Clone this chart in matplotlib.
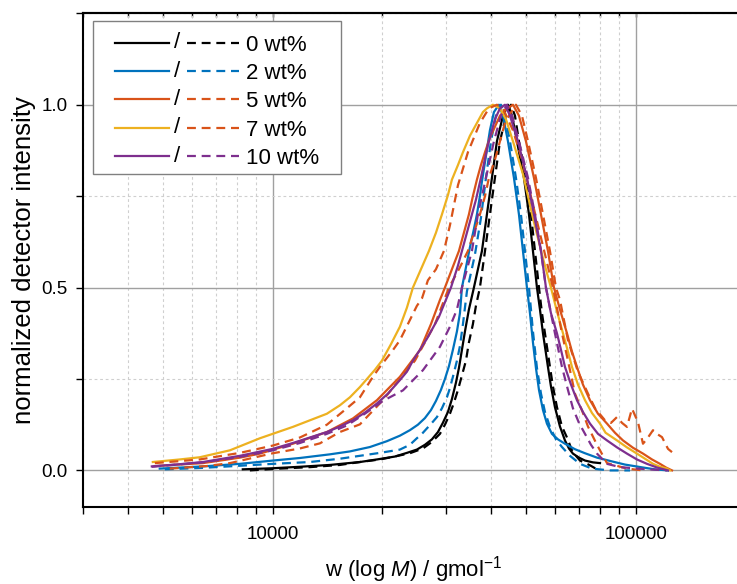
import matplotlib
matplotlib.use('Agg')
import matplotlib.pyplot as plt
from matplotlib.legend_handler import HandlerBase
from matplotlib.lines import Line2D
from matplotlib.text import Text
from matplotlib.ticker import MultipleLocator, FuncFormatter, NullFormatter

plt.rcParams['font.family'] = ['Liberation Sans', 'DejaVu Sans']
plt.rcParams['mathtext.fontset'] = 'custom'
plt.rcParams['mathtext.rm'] = 'Liberation Sans'
plt.rcParams['mathtext.it'] = 'Liberation Sans:italic'

labels = ['0 wt%', '2 wt%', '5 wt%', '7 wt%', '10 wt%']
solid_colors = ['#000000', '#0072BD', '#D95319', '#EDB120', '#7E2F8E']
dashed_colors = ['#000000', '#0072BD', '#D95319', '#D95319', '#7E2F8E']

# 0 wt%
m_0_solid = [8280, 10020, 11890, 14380, 17400, 19380, 21730, 23440, 24970, 26270, 27470, 28540,
             29440, 30410, 31180, 31990, 32600, 33230, 33870, 34730, 35850, 36770, 37720, 38930,
             40190, 41480, 43100, 44490, 45640, 47100, 49240, 50830, 52130, 53470, 54500, 55550,
             56610, 57330, 58430, 59930, 61870, 63860, 65500, 67170, 69790, 72510, 76290, 79750]
i_0_solid = [0.003, 0.006, 0.010, 0.015, 0.023, 0.030, 0.038, 0.048, 0.057, 0.070, 0.085, 0.105,
             0.13, 0.16, 0.195, 0.24, 0.28, 0.33, 0.38, 0.44, 0.50, 0.55, 0.60, 0.70,
             0.80, 0.90, 0.97, 1.0, 0.97, 0.90, 0.80, 0.70, 0.60, 0.50, 0.44, 0.375,
             0.32, 0.283, 0.23, 0.173, 0.12, 0.082, 0.06, 0.046, 0.035, 0.027, 0.022, 0.02]
m_0_dashed = [8660, 10470, 12670, 15320, 17400, 19750, 21450, 23880, 25940, 27470, 28900, 29830,
              30790, 31580, 32400, 33230, 34080, 34730, 35620, 36310, 37240, 38460, 39680, 40960,
              42290, 43930, 45350, 46510, 47700, 49870, 51470, 52800, 54160, 55200, 56250, 57330,
              58060, 59170, 60700, 62660, 64680, 66760, 68470, 70240, 74850, 78240]
i_0_dashed = [0.0, 0.005, 0.009, 0.015, 0.023, 0.030, 0.037, 0.047, 0.06, 0.078, 0.10, 0.125,
              0.155, 0.185, 0.22, 0.26, 0.30, 0.35, 0.40, 0.45, 0.50, 0.60, 0.70, 0.80,
              0.90, 0.97, 1.0, 0.97, 0.90, 0.80, 0.70, 0.60, 0.50, 0.43, 0.375, 0.32,
              0.283, 0.23, 0.173, 0.12, 0.09, 0.055, 0.04, 0.027, 0.014, 0.003]

# 2 wt%
m_2_solid = [4890, 6430, 8130, 10020, 11890, 14380, 16330, 18540, 20650, 22420, 23880, 25130,
             26270, 27300, 28180, 29080, 29830, 30600, 31380, 32190, 32810, 33230, 34080, 34950,
             35850, 36540, 37240, 37720, 38690, 39680, 40700, 42010, 43100, 44490, 46210, 47700,
             48930, 50180, 51150, 52130, 53130, 54160, 55550, 56960, 58800, 61080, 63860, 68040,
             72510, 78240, 84970, 93430, 104740, 113000, 122740]
i_2_solid = [0.005, 0.011, 0.018, 0.027, 0.034, 0.044, 0.052, 0.064, 0.08, 0.095, 0.11, 0.125,
             0.143, 0.165, 0.19, 0.22, 0.25, 0.285, 0.33, 0.38, 0.43, 0.50, 0.555, 0.61,
             0.66, 0.70, 0.75, 0.79, 0.86, 0.93, 0.98, 1.0, 0.97, 0.90, 0.80, 0.70,
             0.60, 0.50, 0.43, 0.35, 0.28, 0.22, 0.165, 0.128, 0.10, 0.085, 0.073, 0.058,
             0.047, 0.035, 0.026, 0.016, 0.008, 0.003, 0.0]
m_2_dashed = [5050, 6430, 10020, 12670, 15320, 17400, 19750, 22420, 23880, 24970, 25780, 26610,
              27470, 28360, 29270, 30210, 30790, 31380, 32190, 32810, 33440, 34300, 35180, 36080,
              37480, 38690, 39940, 41220, 42550, 43650, 45060, 46800, 48310, 49550, 50830, 52130,
              53470, 54850, 56250, 58060, 60310, 62660, 65920, 70240, 75800, 84970, 96450]
i_2_dashed = [0.003, 0.007, 0.018, 0.023, 0.032, 0.04, 0.048, 0.057, 0.07, 0.088, 0.10, 0.115,
              0.13, 0.146, 0.17, 0.20, 0.225, 0.256, 0.30, 0.34, 0.40, 0.49, 0.54, 0.59,
              0.69, 0.80, 0.90, 0.97, 1.0, 0.97, 0.90, 0.80, 0.70, 0.60, 0.50, 0.38,
              0.28, 0.21, 0.16, 0.119, 0.085, 0.064, 0.04, 0.018, 0.005, 0.0, 0.0]

# 5 wt%
m_5_solid = [4740, 6430, 8130, 9230, 11370, 14110, 16640, 19380, 22420, 25460, 27300, 28900,
             29830, 31180, 32600, 33650, 34730, 35620, 36540, 37480, 38460, 39680, 40960, 42290,
             43650, 45920, 47700, 49870, 52460, 54850, 57330, 59550, 61870, 64680, 66760, 68910,
             71560, 74850, 78740, 83370, 87700, 92260, 98310, 104740, 110900, 116660, 121190, 125890]
i_5_solid = [0.012, 0.02, 0.035, 0.046, 0.073, 0.105, 0.142, 0.192, 0.256, 0.329, 0.40, 0.466,
             0.50, 0.55, 0.60, 0.65, 0.70, 0.75, 0.795, 0.835, 0.87, 0.91, 0.94, 0.97,
             0.985, 1.0, 0.97, 0.90, 0.80, 0.70, 0.60, 0.50, 0.44, 0.375, 0.325, 0.283,
             0.235, 0.192, 0.155, 0.128, 0.103, 0.082, 0.062, 0.046, 0.03, 0.018, 0.008, 0.0]
m_5_dashed = [5210, 6590, 7630, 10020, 11890, 13500, 15320, 17400, 20130, 22860, 24660, 26270,
              28000, 29270, 30600, 32600, 34510, 35850, 37240, 38460, 39430, 40960, 42290, 43650,
              44770, 46800, 48620, 50510, 53130, 55550, 58060, 60310, 61870, 65090, 69340, 73900,
              77260, 82310, 85510, 88830, 91700, 94620, 97680, 101460, 104740, 108100, 111600,
              114450, 118160, 122740, 125890]
i_5_dashed = [0.005, 0.012, 0.02, 0.047, 0.06, 0.074, 0.105, 0.126, 0.192, 0.26, 0.30, 0.35,
              0.40, 0.45, 0.50, 0.55, 0.60, 0.65, 0.70, 0.75, 0.80, 0.85, 0.90, 0.95,
              0.97, 1.0, 0.97, 0.90, 0.80, 0.70, 0.60, 0.50, 0.466, 0.356, 0.27, 0.21,
              0.17, 0.137, 0.13, 0.146, 0.13, 0.119, 0.169, 0.132, 0.073, 0.09, 0.11,
              0.10, 0.091, 0.059, 0.05]

# 7 wt%
m_7_solid = [4680, 5550, 6300, 7630, 9230, 11370, 14110, 15320, 16330, 17400, 18190, 19130,
             20000, 21180, 22420, 23440, 24350, 25620, 26950, 28180, 29270, 30410, 31180, 32400,
             33440, 34950, 36540, 37960, 38930, 40440, 42290, 43930, 45920, 47410, 48930, 50510,
             52130, 53810, 55550, 56960, 58430, 60700, 63060, 65090, 66760, 69340, 72510, 75800,
             79750, 82620, 88830, 94620, 100800, 106080, 111600, 116660, 121960, 124300]
i_7_solid = [0.023, 0.03, 0.036, 0.055, 0.088, 0.119, 0.155, 0.178, 0.20, 0.228, 0.25, 0.275,
             0.30, 0.345, 0.393, 0.445, 0.50, 0.55, 0.60, 0.65, 0.70, 0.753, 0.795, 0.835,
             0.87, 0.915, 0.95, 0.98, 0.99, 1.0, 0.99, 0.96, 0.90, 0.855, 0.81, 0.75,
             0.69, 0.635, 0.58, 0.54, 0.50, 0.435, 0.375, 0.325, 0.283, 0.235, 0.192, 0.157,
             0.128, 0.103, 0.082, 0.063, 0.046, 0.032, 0.018, 0.01, 0.005, 0.0]
m_7_dashed = [4740, 6300, 8130, 10020, 11890, 14110, 16020, 17400, 18890, 19750, 21450, 22420,
              23880, 24970, 25780, 26780, 28180, 29640, 30790, 32400, 34510, 37240, 39430, 41480,
              43100, 45920, 48620, 51150, 53810, 56610, 59170, 62660, 65090, 68040, 71140, 73900,
              78240, 83370, 94620, 104740]
i_7_dashed = [0.02, 0.03, 0.048, 0.068, 0.09, 0.125, 0.17, 0.20, 0.256, 0.283, 0.329, 0.356,
              0.411, 0.45, 0.47, 0.52, 0.55, 0.60, 0.67, 0.78, 0.87, 0.95, 0.99, 1.0,
              0.99, 0.93, 0.85, 0.76, 0.67, 0.58, 0.50, 0.375, 0.30, 0.21, 0.164, 0.12,
              0.07, 0.02, 0.005, 0.0]

# 10 wt%
m_10_solid = [4650, 5550, 6430, 8130, 10020, 11370, 12670, 14110, 15320, 16640, 17950, 19380,
              20780, 22420, 23440, 24350, 25460, 26610, 27650, 28720, 29830, 30990, 32400, 33650,
              34950, 36310, 37480, 39180, 40960, 42290, 43650, 45060, 47410, 50180, 52460, 54850,
              56610, 58430, 60700, 62260, 63860, 66340, 68910, 71560, 74850, 78740, 83370, 88830,
              94620, 100800, 107430, 114450, 122740]
i_10_solid = [0.011, 0.017, 0.023, 0.04, 0.059, 0.075, 0.09, 0.105, 0.12, 0.137, 0.158, 0.183,
              0.21, 0.247, 0.27, 0.30, 0.33, 0.36, 0.39, 0.42, 0.46, 0.50, 0.56, 0.62,
              0.68, 0.74, 0.80, 0.89, 0.96, 0.99, 1.0, 0.97, 0.90, 0.80, 0.70, 0.60,
              0.50, 0.43, 0.375, 0.33, 0.283, 0.235, 0.192, 0.16, 0.128, 0.10, 0.082, 0.063,
              0.046, 0.03, 0.018, 0.008, 0.0]
m_10_dashed = [4650, 6430, 8130, 10020, 11890, 14110, 16020, 17950, 20130, 22860, 25940, 28900,
               30790, 32190, 33230, 34300, 35400, 36770, 38690, 40700, 42550, 44200, 45640, 47700,
               50510, 52800, 54850, 56610, 58430, 59930, 62660, 65090, 67170, 69790, 72510, 75330,
               78240, 83370, 90530, 104740, 121960]
i_10_dashed = [0.01, 0.022, 0.037, 0.055, 0.075, 0.10, 0.123, 0.155, 0.19, 0.219, 0.274, 0.338,
               0.393, 0.44, 0.50, 0.55, 0.60, 0.70, 0.80, 0.90, 0.97, 1.0, 0.97, 0.90,
               0.80, 0.70, 0.60, 0.50, 0.43, 0.375, 0.283, 0.22, 0.17, 0.13, 0.10, 0.07,
               0.046, 0.018, 0.009, 0.004, 0.0]

solid_data = [(m_0_solid, i_0_solid), (m_2_solid, i_2_solid), (m_5_solid, i_5_solid),
              (m_7_solid, i_7_solid), (m_10_solid, i_10_solid)]
dashed_data = [(m_0_dashed, i_0_dashed), (m_2_dashed, i_2_dashed), (m_5_dashed, i_5_dashed),
               (m_7_dashed, i_7_dashed), (m_10_dashed, i_10_dashed)]

LW = 1.6
DASH = (4, 2.6)


class SlashHandler(HandlerBase):
    #legend entry drawn as: solid line / dashed line
    def create_artists(self, legend, orig_handle, xdescent, ydescent, width, height, fontsize, trans):
        solid, dashed = orig_handle
        y = height / 2 - ydescent
        x0 = -xdescent
        l1 = Line2D([x0 + 0.119 * width, x0 + 0.502 * width], [y, y],
                    color=solid.get_color(), lw=LW)
        sl = Text(x0 + 0.559 * width, y, '/', ha='center', va='center', fontsize=fontsize)
        l2 = Line2D([x0 + 0.63 * width, x0 + width], [y, y],
                    color=dashed.get_color(), lw=LW, dashes=DASH)
        for a in (l1, sl, l2):
            a.set_transform(trans)
        return [l1, sl, l2]


fig = plt.figure(figsize=(7.37, 5.84), dpi=100)
ax = fig.add_axes([82.7 / 737, 1 - 507 / 584, 662.3 / 737, 493.7 / 584])

handles = []
for k in range(len(labels)):
    ls, = ax.plot(solid_data[k][0], solid_data[k][1], color=solid_colors[k], lw=LW)
    ld, = ax.plot(dashed_data[k][0], dashed_data[k][1], color=dashed_colors[k], lw=LW, dashes=DASH)
    handles.append((ls, ld))

ax.set_xscale('log')
ax.set_xlim(3000, 200000)
ax.set_ylim(-0.1, 1.25)

ax.xaxis.set_major_formatter(FuncFormatter(lambda v, p: f'{v:.0f}'))
ax.xaxis.set_minor_formatter(NullFormatter())
ax.yaxis.set_major_locator(MultipleLocator(0.5))
ax.yaxis.set_minor_locator(MultipleLocator(0.25))
ax.yaxis.set_major_formatter(FuncFormatter(lambda v, p: f'{v:.1f}'))

ax.grid(which='major', color='#a0a0a0', lw=1.0, ls='-')
ax.grid(which='minor', color='#cfcfcf', lw=0.8, ls=(0, (2.5, 2.5)))
ax.set_axisbelow(True)

ax.tick_params(which='both', direction='out', length=5, width=1.0, labelsize=13.5,
               top=False, right=False)
ax.tick_params(axis='x', which='both', pad=9)
ax.tick_params(axis='y', which='both', pad=6)
for side in ['left', 'bottom', 'top']:
    ax.spines[side].set_linewidth(1.5)
ax.spines['right'].set_visible(False)

# inward ticks on the top spine
top = ax.secondary_xaxis('top')
top.tick_params(which='both', direction='in', length=3, width=1.0, labeltop=False)
top.xaxis.set_minor_formatter(NullFormatter())
top.spines['top'].set_linewidth(1.5)

ax.set_xlabel('w (log $\\it{M}$) / gmol$^{-1}$', fontsize=16, labelpad=8)
ax.set_ylabel('normalized detector intensity', fontsize=18.5, labelpad=4)

# a tiny blank title gives the legend a little more room on top than below
leg = ax.legend(handles, labels, handler_map={tuple: SlashHandler()},
                loc='upper left', bbox_to_anchor=(0.0151, 0.5, 0.375, 0.485), mode='expand',
                borderaxespad=0, fontsize=16, handlelength=6.34, handletextpad=0.3,
                labelspacing=0.33, borderpad=0.25, fancybox=False, framealpha=1,
                edgecolor='#808080', title=' ', title_fontsize=0.8)
leg.get_frame().set_linewidth(1.0)

fig.savefig('out.png', dpi=100)
